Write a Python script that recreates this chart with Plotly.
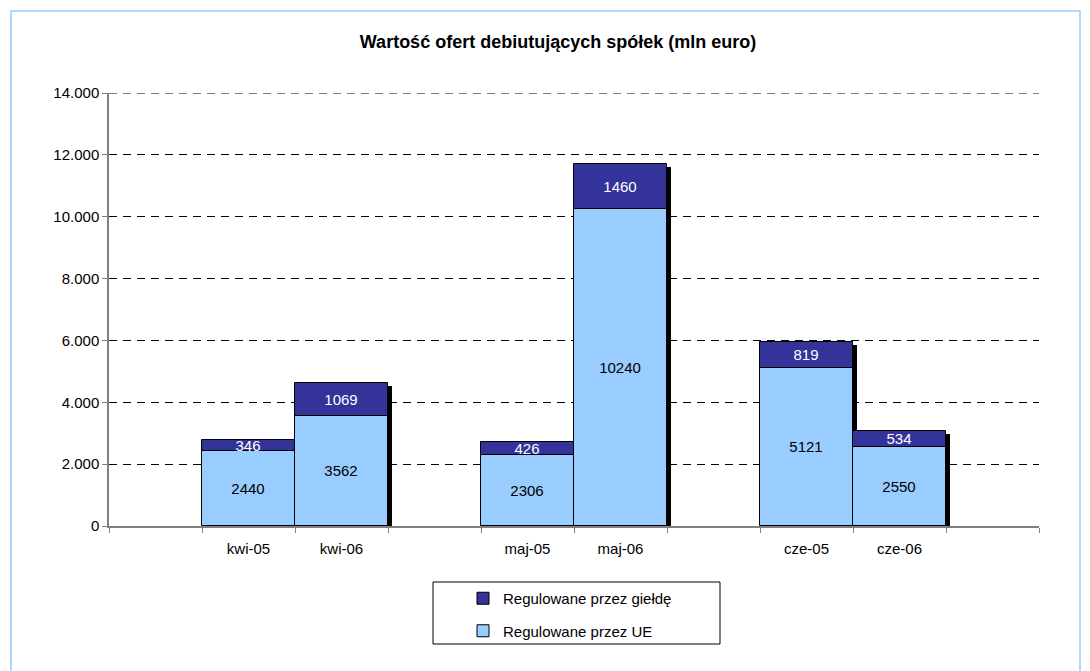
import plotly.graph_objects as go

categories = [" ", "kwi-05", "kwi-06", "  ", "maj-05", "maj-06", "   ", "cze-05", "cze-06", "    "]
ue_values = [None, 2440, 3562, None, 2306, 10240, None, 5121, 2550, None]
gielda_values = [None, 346, 1069, None, 426, 1460, None, 819, 534, None]
y_ticks = [0, 2000, 4000, 6000, 8000, 10000, 12000, 14000]

W, H = 1090, 671
L, R, T, B = 109, 51, 93, 145
pw, ph = W - L - R, H - T - B

totals = [None if u is None else u + g for u, g in zip(ue_values, gielda_values)]
drop = 14000 / ph * 3  # shadow starts a few px below top
shadow = [None if t is None else t - drop for t in totals]
bases = ue_values

font_family = "Arial, Liberation Sans, sans-serif"

fig = go.Figure()
fig.add_trace(go.Bar(
    x=categories, y=shadow, base=0, width=1, offset=-0.5 + 4 / 93,
    marker=dict(color="black", line=dict(width=0)), showlegend=False, hoverinfo="skip"))
fig.add_trace(go.Bar(
    x=categories, y=ue_values, base=0, width=1, name="Regulowane przez UE",
    marker=dict(color="#99CCFF", line=dict(color="black", width=1)),
    text=[None if v is None else str(v) for v in ue_values],
    textposition="inside", insidetextanchor="middle", textangle=0,
    textfont=dict(color="black", size=15, family=font_family),
    constraintext="none", legendgroup="b", legendrank=2))
fig.add_trace(go.Bar(
    x=categories, y=gielda_values, base=bases, width=1, name="Regulowane przez giełdę",
    marker=dict(color="#333399", line=dict(color="black", width=1)),
    text=[None if v is None else str(v) for v in gielda_values],
    textposition="inside", insidetextanchor="middle", textangle=0,
    textfont=dict(color="white", size=15, family=font_family),
    constraintext="none", legendgroup="a", legendrank=1))

fig.update_layout(
    width=W, height=H, barmode="overlay", bargap=0,
    margin=dict(l=L, r=R, t=T, b=B),
    paper_bgcolor="white", plot_bgcolor="white",
    separators=",.",
    font=dict(family=font_family, size=15, color="black"),
    uniformtext=dict(minsize=15, mode="show"),
    title=dict(text="<b>Wartość ofert debiutujących spółek (mln euro)</b>",
               x=558 / W, xanchor="center", y=1 - 42 / H, yanchor="middle",
               yref="container", xref="container",
               font=dict(size=18, family=font_family, color="black")),
    xaxis=dict(type="category", categoryorder="array", categoryarray=categories,
               range=[-0.5, 9.5], showline=True, linecolor="#808080", linewidth=1.5,
               ticks="outside", tickson="boundaries", ticklen=5, tickcolor="#808080",
               showgrid=False, tickfont=dict(size=15), ticklabelstandoff=8),
    yaxis=dict(range=[0, 14000], tickvals=y_ticks, tickformat=",",
               showline=True, linecolor="#808080", linewidth=1.5,
               ticks="outside", ticklen=5, tickcolor="#808080",
               showgrid=True, gridcolor="black", gridwidth=1, griddash="8px,6px",
               zeroline=False, tickfont=dict(size=15)),
    legend=dict(x=(463 - L) / pw, xanchor="left", y=(T + ph - 582) / ph, yanchor="top",
                xref="paper", yref="paper",
                bgcolor="rgba(0,0,0,0)", borderwidth=0,
                traceorder="grouped", tracegroupgap=10,
                font=dict(size=15, family=font_family)),
    shapes=[
        dict(type="line", xref="paper", yref="y", x0=0, x1=1,
             y0=y_ticks[-1], y1=y_ticks[-1],
             line=dict(color="black", width=1, dash="8px,6px"), layer="below"),
        dict(type="rect", xref="paper", yref="paper",
             x0=(433 - L) / pw, x1=(720 - L) / pw,
             y0=(T + ph - 644) / ph, y1=(T + ph - 582) / ph,
             line=dict(color="black", width=1), fillcolor="rgba(0,0,0,0)", layer="above"),
        dict(type="rect", xref="paper", yref="paper",
             x0=(11 - L) / pw, x1=(1080 - L) / pw,
             y0=(T + ph - 700) / ph, y1=(T + ph - 11) / ph,
             line=dict(color="#99CCFF", width=1.5), fillcolor="rgba(0,0,0,0)", layer="above"),
    ],
)

fig.write_html("out.html", config={"displayModeBar": False},
               post_script="document.body.style.margin='0';")
